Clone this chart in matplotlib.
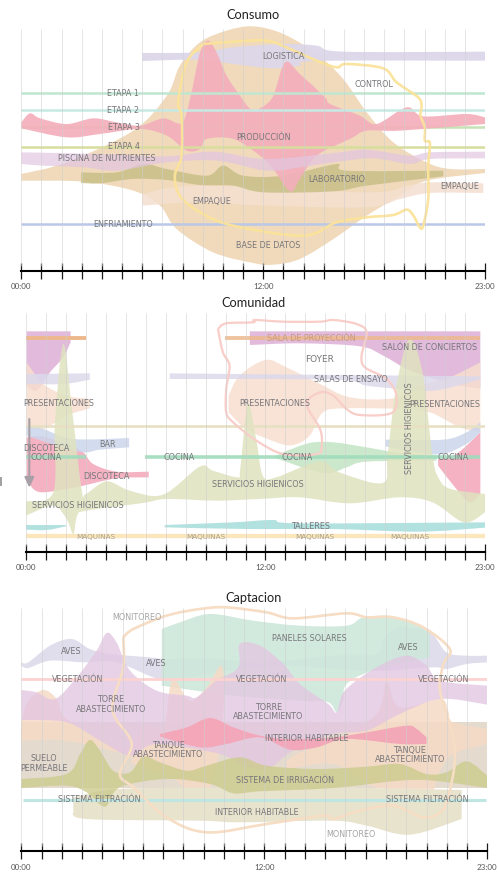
import matplotlib
matplotlib.use("Agg")
import matplotlib.pyplot as plt
from matplotlib.path import Path
from matplotlib.patches import PathPatch

# x values are minutes since 00:00, y values are chart levels (top = small)
HOURS = list(range(0, 1381, 60))
HOUR_LABELS = {0: "00:00", 720: "12:00", 1380: "23:00"}

# ---------- Consumo ----------
bd_ux = [0, 135, 333, 433, 472, 532, 611, 690, 780, 879, 958, 1028, 1107, 1206, 1276, 1380]
bd_uy = [525, 490, 395, 290, 200, 130, 95, 82, 105, 165, 240, 340, 430, 490, 510, 510]
bd_lx = [0, 185, 333, 413, 462, 571, 690, 750, 829, 929, 1028, 1127, 1206, 1380]
bd_ly = [545, 548, 575, 620, 690, 760, 792, 797, 780, 720, 650, 590, 545, 522]
log_ux = [360, 532, 631, 780, 879, 958, 1380]
log_uy = [162, 160, 145, 135, 140, 158, 158]
log_lx = [360, 532, 631, 750, 829, 879, 1380]
log_ly = [186, 182, 195, 208, 200, 186, 185]
prod_ux = [0, 26, 56, 135, 214, 284, 353, 423, 477, 502, 532, 557, 581, 611, 651, 685, 720, 750, 785, 829, 904, 919, 1008, 1057, 1147, 1196, 1325, 1380]
prod_uy = [370, 343, 358, 375, 358, 370, 380, 358, 372, 300, 160, 125, 160, 230, 290, 332, 322, 290, 190, 225, 295, 315, 350, 375, 325, 352, 345, 355]
prod_lx = [0, 135, 234, 353, 433, 492, 532, 552, 631, 710, 750, 800, 829, 879, 978, 1028, 1127, 1380]
prod_ly = [388, 415, 405, 390, 410, 455, 450, 420, 420, 470, 510, 577, 540, 470, 420, 395, 395, 375]
pis_ux = [0, 234, 433, 571, 730, 929, 1028, 1157, 1216, 1380]
pis_uy = [460, 465, 472, 458, 480, 462, 452, 470, 460, 458]
pis_lx = [0, 65, 185, 284, 433, 581, 730, 829, 929, 1048, 1157, 1216, 1380]
pis_ly = [495, 500, 505, 515, 490, 485, 515, 505, 490, 478, 495, 480, 478]
lab_ux = [178, 284, 363, 433, 552, 601, 661, 780, 938, 968, 1256]
lab_uy = [520, 520, 495, 510, 530, 500, 530, 530, 495, 515, 515]
lab_lx = [178, 234, 333, 433, 532, 631, 720, 929, 1028, 1256]
lab_ly = [552, 553, 540, 543, 558, 560, 580, 577, 560, 532]
emp_ux = [360, 532, 1028, 1147, 1216, 1375]
emp_uy = [585, 560, 580, 560, 550, 553]
emp_lx = [360, 532, 730, 1028, 1127, 1216, 1375]
emp_ly = [620, 610, 620, 625, 600, 582, 582]
ctl_x = [542, 631, 730, 800, 879, 938, 968, 1077, 1117, 1181, 1191, 1188, 1201, 1201, 1216, 1211, 1211, 1196, 1186, 1167, 1147, 1107, 1028, 938, 839, 631, 532, 472, 457, 477, 477, 467, 492]
ctl_y = [135, 128, 125, 150, 185, 205, 195, 208, 250, 295, 320, 350, 385, 425, 432, 500, 600, 680, 685, 650, 632, 648, 655, 670, 710, 680, 640, 590, 530, 470, 350, 310, 190]
etapa_levels = [283, 334, 385, 443, 675]
etapa_colors = ["#bfe6d0", "#c6e9e4", "#c5e3b4", "#d7dd9c", "#b9c8e8"]

# ---------- Comunidad ----------
sal_a_ux = [2, 134]
sal_a_uy = [127, 127]
sal_a_lx = [2, 32, 72, 112, 134]
sal_a_ly = [290, 305, 250, 205, 160]
sal_b_ux = [673, 1366]
sal_b_uy = [127, 127]
sal_b_lx = [673, 824, 1004, 1074, 1154, 1244, 1304, 1366]
sal_b_ly = [168, 163, 172, 200, 245, 275, 290, 298]
foy_x = [577, 602, 683, 688, 773, 884, 924, 994, 1024, 1009, 1019, 1084, 1114, 1099, 1004, 964, 924, 884, 844, 884, 889, 874, 773, 693, 623, 602, 602, 612, 592]
foy_y = [120, 103, 100, 93, 98, 98, 93, 105, 130, 200, 235, 270, 320, 372, 378, 360, 320, 310, 345, 420, 470, 495, 495, 455, 400, 370, 300, 230, 190]
pre_a_ux = [2, 52, 122, 192]
pre_a_uy = [220, 285, 320, 330]
pre_a_lx = [2, 52, 122, 192]
pre_a_ly = [410, 420, 380, 358]
pre_b_ux = [609, 642, 720, 783, 884, 974, 1104, 1184, 1274, 1366]
pre_b_uy = [320, 260, 213, 235, 285, 325, 328, 290, 265, 220]
pre_b_lx = [609, 662, 753, 803, 853, 893, 964, 1124, 1214, 1304, 1366]
pre_b_ly = [370, 420, 460, 468, 440, 370, 358, 360, 370, 415, 430]
ens_a_ux = [2, 192]
ens_a_uy = [255, 253]
ens_a_lx = [2, 112, 192]
ens_a_ly = [285, 285, 272]
ens_b_ux = [432, 1366]
ens_b_uy = [253, 262]
ens_b_lx = [432, 924, 1024, 1124, 1224, 1324, 1366]
ens_b_ly = [270, 272, 290, 300, 305, 283, 270]
bar_a_ux = [2, 52, 142, 310]
bar_a_uy = [412, 420, 450, 447]
bar_a_lx = [2, 92, 172, 222, 310]
bar_a_ly = [440, 470, 490, 482, 475]
bar_b_ux = [1081, 1254, 1324, 1366]
bar_b_uy = [452, 452, 430, 400]
bar_b_lx = [1081, 1174, 1254, 1324, 1366]
bar_b_ly = [472, 490, 495, 465, 430]
dis_a_ux = [2, 52, 122, 172, 202, 272, 369]
dis_a_uy = [445, 443, 465, 490, 525, 548, 548]
dis_a_lx = [2, 22, 52, 122, 172, 272, 369]
dis_a_ly = [570, 600, 610, 600, 590, 568, 565]
dis_b_ux = [1239, 1294, 1366]
dis_b_uy = [510, 495, 430]
dis_b_lx = [1239, 1294, 1334, 1366]
dis_b_ly = [530, 600, 640, 615]
coc_ux = [773, 853, 924, 1024, 1124, 1234]
coc_uy = [490, 462, 460, 475, 492, 498]
coc_lx = [743, 893, 964, 1024, 1234]
coc_ly = [505, 552, 535, 518, 515]
ser_ux = [0, 82, 87, 112, 137, 167, 180, 242, 312, 412, 522, 562, 637, 644, 667, 692, 712, 752, 882, 942, 1072, 1087, 1112, 1152, 1192, 1222, 1242, 1277, 1380]
ser_uy = [637, 610, 400, 165, 350, 600, 615, 577, 605, 617, 533, 545, 565, 540, 347, 450, 560, 565, 517, 550, 582, 500, 300, 150, 250, 500, 570, 600, 615]
ser_lx = [0, 82, 122, 142, 154, 182, 352, 422, 572, 702, 822, 972, 1122, 1222, 1317, 1380]
ser_ly = [680, 650, 690, 735, 680, 665, 642, 630, 635, 630, 625, 643, 625, 640, 700, 670]
tal_a_ux = [0, 120]
tal_a_uy = [708, 708]
tal_a_lx = [0, 62, 120]
tal_a_ly = [722, 723, 712]
tal_b_ux = [417, 622, 742, 822, 1380]
tal_b_uy = [708, 700, 693, 703, 700]
tal_b_lx = [417, 662, 922, 1182, 1380]
tal_b_ly = [715, 720, 720, 728, 716]

# ---------- Captacion ----------
sue_x = [0, 1380]
sue_top = [415, 415]
sue_bot = [612, 612]
ave_ux = [0, 21, 85, 149, 203, 263, 381, 430, 578, 726, 924, 1052, 1072, 1121, 1210, 1259, 1319, 1380]
ave_uy = [235, 235, 185, 165, 195, 210, 220, 225, 225, 235, 215, 210, 165, 130, 145, 205, 215, 215]
ave_lx = [0, 21, 85, 184, 282, 430, 578, 776, 924, 1072, 1220, 1259, 1319, 1380]
ave_ly = [245, 252, 230, 235, 235, 290, 265, 245, 255, 260, 250, 255, 240, 235]
pan_ux = [416, 470, 559, 687, 825, 963, 1013, 1101, 1180, 1210]
pan_uy = [135, 115, 90, 110, 125, 125, 100, 97, 125, 150]
pan_lx = [416, 628, 825, 909, 934, 953, 963, 1042, 1210]
pan_ly = [305, 335, 350, 355, 385, 350, 300, 260, 220]
tan_a_ux = [0, 21, 65, 105, 129, 233, 317, 361, 420, 440, 455, 499, 549, 593, 600, 590]
tan_a_uy = [410, 350, 318, 345, 400, 465, 495, 425, 430, 310, 285, 350, 310, 245, 350, 490]
tan_a_lx = [0, 134, 317, 332, 460, 519, 559, 590]
tan_a_ly = [470, 470, 515, 540, 590, 682, 610, 490]
tan_b_ux = [786, 825, 924, 1052, 1082, 1121, 1240, 1264, 1279, 1380]
tan_b_uy = [530, 505, 470, 390, 295, 370, 345, 380, 415, 435]
tan_b_lx = [786, 924, 1023, 1121, 1200, 1240, 1279, 1380]
tan_b_ly = [555, 540, 600, 625, 660, 560, 510, 480]
tor_ux = [0, 45, 100, 164, 223, 253, 282, 322, 401, 490, 519, 578, 643, 647, 707, 776, 825, 909, 934, 958, 1052, 1141, 1200, 1240, 1380]
tor_uy = [318, 325, 345, 280, 200, 147, 175, 260, 320, 335, 340, 290, 250, 180, 185, 240, 300, 360, 385, 320, 250, 215, 245, 290, 305]
tor_lx = [0, 134, 233, 322, 401, 588, 647, 726, 805, 924, 1023, 1121, 1240, 1380]
tor_ly = [408, 415, 470, 515, 480, 510, 540, 555, 500, 450, 440, 390, 345, 362]
inh_ux = [411, 490, 559, 628, 707, 796, 924, 1023, 1141, 1171, 1200]
inh_uy = [450, 430, 402, 430, 455, 465, 460, 445, 425, 435, 460]
inh_lx = [411, 529, 608, 707, 796, 875, 963, 1121, 1200]
inh_ly = [458, 490, 480, 460, 497, 490, 465, 480, 480]
irr_ux = [0, 134, 174, 203, 233, 272, 322, 361, 411, 490, 549, 647, 726, 875, 1023, 1121, 1200, 1259, 1319, 1380]
irr_uy = [585, 570, 510, 468, 500, 560, 565, 518, 535, 560, 545, 520, 545, 555, 548, 540, 570, 565, 532, 575]
irr_lx = [0, 134, 193, 248, 292, 430, 559, 628, 707, 924, 1121, 1220, 1380]
irr_ly = [612, 605, 625, 668, 610, 585, 600, 628, 622, 612, 590, 590, 612]
int_ux = [154, 292, 628, 924, 1304]
int_uy = [640, 615, 610, 610, 618]
int_lx = [154, 193, 529, 647, 924, 1023, 1151, 1304]
int_ly = [680, 705, 710, 715, 710, 725, 752, 705]
mon_x = [302, 332, 430, 529, 608, 726, 805, 963, 1023, 1101, 1190, 1269, 1250, 1240, 1274, 1284, 1264, 1240, 1190, 1101, 1003, 924, 894, 726, 549, 430, 332, 292, 327, 277, 272, 302]
mon_y = [160, 135, 95, 75, 70, 85, 103, 88, 100, 100, 130, 195, 240, 320, 440, 530, 640, 685, 700, 665, 680, 705, 695, 720, 745, 700, 610, 570, 480, 400, 350, 250]

TXT = "#77767a"


def spline_verts(xs, ys):
    """Bezier segments through the read points (Catmull-Rom handles)."""
    pts = list(zip(xs, ys))
    verts, codes = [], []
    n = len(pts)
    for i in range(n - 1):
        p0 = pts[max(i - 1, 0)]
        p1 = pts[i]
        p2 = pts[i + 1]
        p3 = pts[min(i + 2, n - 1)]
        c1 = (p1[0] + (p2[0] - p0[0]) / 6, p1[1] + (p2[1] - p0[1]) / 6)
        c2 = (p2[0] - (p3[0] - p1[0]) / 6, p2[1] - (p3[1] - p1[1]) / 6)
        verts += [c1, c2, p2]
        codes += [Path.CURVE4] * 3
    return verts, codes


def band(ax, ux, uy, lx, ly, color, alpha=1.0, z=2):
    v1, c1 = spline_verts(ux, uy)
    v2, c2 = spline_verts(lx[::-1], ly[::-1])
    verts = [(ux[0], uy[0])] + v1 + [(lx[-1], ly[-1])] + v2 + [(ux[0], uy[0])]
    codes = [Path.MOVETO] + c1 + [Path.LINETO] + c2 + [Path.CLOSEPOLY]
    ax.add_patch(PathPatch(Path(verts, codes), facecolor=color, edgecolor="none", alpha=alpha, zorder=z))


def loop(ax, xs, ys, color, lw, z=6, alpha=1.0):
    cx = list(xs) + [xs[0]]
    cy = list(ys) + [ys[0]]
    v, c = spline_verts(cx, cy)
    path = Path([(xs[0], ys[0])] + v, [Path.MOVETO] + c)
    ax.add_patch(PathPatch(path, facecolor="none", edgecolor=color, lw=lw, alpha=alpha, zorder=z, joinstyle="round"))


def hband(ax, y, x0, x1, color, lw, alpha=1.0, z=4):
    ax.hlines(y, x0, x1, colors=color, lw=lw, alpha=alpha, zorder=z, capstyle="butt")


def label(ax, x, y, s, size=5.8, color=TXT, rotation=0, alpha=1.0):
    ax.text(x, y, s, fontsize=size, color=color, ha="center", va="center", rotation=rotation,
            alpha=alpha, zorder=10, linespacing=1.05, family="DejaVu Sans")


def panel(fig, box, ylim, title, title_x, title_y, grid_top, grid_bot, axis_y, right_px):
    top, bot, left = box
    W, H = 498.0, 878.0
    ax = fig.add_axes([left / W, 1 - bot / H, (right_px - left) / W, (bot - top) / H])
    ax.set_xlim(0, 1380)
    ax.set_ylim(ylim, 0)
    ax.patch.set_alpha(0)
    for s in ["top", "left", "right"]:
        ax.spines[s].set_visible(False)
    ax.spines["bottom"].set_position(("data", axis_y))
    ax.spines["bottom"].set_linewidth(1.5)
    ax.spines["bottom"].set_zorder(9)
    ax.set_yticks([])
    ax.set_xticks(HOURS)
    ax.set_xticklabels([HOUR_LABELS.get(h, "") for h in HOURS], fontsize=5.8, color="#555555", family="Lato")
    ax.tick_params(axis="x", direction="inout", length=12, width=0.9, pad=2.5, color="#1a1a1a")
    ax.vlines(HOURS, grid_top, grid_bot, colors="#cfcfcf", lw=0.7, alpha=0.55, zorder=8)
    ax.text(title_x, title_y, title, fontsize=9.2, color="#222222", ha="center", va="center", family="Lato")
    return ax


fig = plt.figure(figsize=(4.98, 8.78), dpi=100, facecolor="white")

# ---------- Consumo ----------
a = panel(fig, (0, 295, 21.3), 885, "Consumo", 690, 44, 90, 800, 815, 485)
band(a, bd_ux, bd_uy, bd_lx, bd_ly, "#f0dabb", z=1)
band(a, emp_ux, emp_uy, emp_lx, emp_ly, "#f5dfd0", alpha=0.85, z=2)
band(a, log_ux, log_uy, log_lx, log_ly, "#dcd7ea", alpha=0.95, z=2)
hband(a, etapa_levels[0], 0, 1380, etapa_colors[0], 1.8)
hband(a, etapa_levels[1], 0, 1380, etapa_colors[1], 1.8)
hband(a, etapa_levels[2], 0, 1380, etapa_colors[2], 1.8, z=2)
band(a, lab_ux, lab_uy, lab_lx, lab_ly, "#c8c088", alpha=0.85, z=2.8)
band(a, prod_ux, prod_uy, prod_lx, prod_ly, "#f4afbb", alpha=0.92, z=3)
hband(a, etapa_levels[3], 0, 1380, etapa_colors[3], 1.8)
band(a, pis_ux, pis_uy, pis_lx, pis_ly, "#e2c6e2", alpha=0.7, z=4)
hband(a, etapa_levels[4], 0, 1380, etapa_colors[4], 1.8)
loop(a, ctl_x, ctl_y, "#fbe39a", 1.9, alpha=0.95)
for x, y, s in [(302, 281, "ETAPA 1"), (304, 331, "ETAPA 2"), (304, 381, "ETAPA 3"), (304, 439, "ETAPA 4"),
                (780, 169, "LOGISTICA"), (1048, 253, "CONTROL"), (720, 412, "PRODUCCIÓN"),
                (254, 476, "PISCINA DE NUTRIENTES"), (940, 538, "LABORATORIO"), (566, 605, "EMPAQUE"),
                (1305, 560, "EMPAQUE"), (304, 673, "ENFRIAMIENTO"), (735, 738, "BASE DE DATOS")]:
    label(a, x, y, s)

# ---------- Comunidad ----------
b = panel(fig, (290, 585, 26), 885, "Comunidad", 684, 40, 72, 772, 788, 485)
band(b, ser_ux, ser_uy, ser_lx, ser_ly, "#dfe3bf", alpha=0.85, z=3)
band(b, sal_a_ux, sal_a_uy, sal_a_lx, sal_a_ly, "#e0b7da", alpha=0.95, z=1)
band(b, sal_b_ux, sal_b_uy, sal_b_lx, sal_b_ly, "#e0b7da", alpha=0.95, z=1)
band(b, pre_a_ux, pre_a_uy, pre_a_lx, pre_a_ly, "#f7dfcf", alpha=0.85, z=2)
band(b, pre_b_ux, pre_b_uy, pre_b_lx, pre_b_ly, "#f7dfcf", alpha=0.85, z=2)
band(b, ens_a_ux, ens_a_uy, ens_a_lx, ens_a_ly, "#dcd9ec", alpha=0.85, z=2)
band(b, ens_b_ux, ens_b_uy, ens_b_lx, ens_b_ly, "#dcd9ec", alpha=0.85, z=2)
band(b, dis_a_ux, dis_a_uy, dis_a_lx, dis_a_ly, "#f4aebf", alpha=0.95, z=2)
band(b, dis_b_ux, dis_b_uy, dis_b_lx, dis_b_ly, "#f4aebf", alpha=0.95, z=2)
band(b, bar_a_ux, bar_a_uy, bar_a_lx, bar_a_ly, "#cbd6ec", alpha=0.85, z=2.5)
band(b, bar_b_ux, bar_b_uy, bar_b_lx, bar_b_ly, "#cbd6ec", alpha=0.85, z=2.5)
band(b, coc_ux, coc_uy, coc_lx, coc_ly, "#bfe3c0", alpha=0.8, z=2.5)
band(b, tal_a_ux, tal_a_uy, tal_a_lx, tal_a_ly, "#b2e2e0", z=2)
band(b, tal_b_ux, tal_b_uy, tal_b_lx, tal_b_ly, "#b2e2e0", z=2)
hband(b, 741, 0, 1380, "#fbe7bb", 3.1)
hband(b, 147, -5, 180, "#edb98c", 2.8, z=5)
hband(b, 147, 598, 1366, "#edb98c", 2.8, alpha=0.85, z=5)
hband(b, 411, 0, 1380, "#e7e0c3", 1.9, z=4)
hband(b, 504, 0, 180, "#9fdcbc", 2.6, alpha=0.9)
hband(b, 504, 359, 1366, "#9fdcbc", 2.6, alpha=0.9)
loop(b, foy_x, foy_y, "#f9cdc8", 1.6)
b.annotate("", xy=(10, 596), xytext=(10, 390),
           arrowprops=dict(arrowstyle="-|>,head_width=0.28,head_length=0.6", color="#a8a0a6", lw=1.5, shrinkA=0, shrinkB=0),
           zorder=9)
b.plot([-76, -76], [568, 588], color="#a0a0a0", lw=1.4, clip_on=False)
for x, y, s in [(98, 342, "PRESENTACIONES"), (748, 342, "PRESENTACIONES"), (1259, 344, "PRESENTACIONES"),
                (60, 476, "DISCOTECA"), (242, 559, "DISCOTECA"), (244, 464, "BAR"),
                (60, 504, "COCINA"), (460, 504, "COCINA"), (816, 504, "COCINA"), (1284, 504, "COCINA"),
                (157, 647, "SERVICIOS HIGIENICOS"), (697, 585, "SERVICIOS HIGIENICOS"),
                (1214, 174, "SALÓN DE CONCIERTOS"), (978, 270, "SALAS DE ENSAYO"), (856, 709, "TALLERES")]:
    label(b, x, y, s)
label(b, 1154, 415, "SERVICIOS HIGIENICOS", rotation=90)
label(b, 857, 146, "SALA DE PROYECCIÓN", color="#c79a7d")
label(b, 884, 210, "FOYER", size=6.5)
for x in [210, 542, 870, 1154]:
    label(b, x, 742, "MAQUINAS", size=5.2, color="#a8a08c")

# ---------- Captacion ----------
c = panel(fig, (585, 878, 21.3), 879, "Captacion", 689, 38, 72, 787, 802, 487.3)
c.fill_between(sue_x, sue_top, sue_bot, color="#e4dace", lw=0, zorder=1)
band(c, ave_ux, ave_uy, ave_lx, ave_ly, "#dfdceb", alpha=0.95, z=1.5)
band(c, pan_ux, pan_uy, pan_lx, pan_ly, "#cde8da", alpha=0.9, z=2)
band(c, tan_a_ux, tan_a_uy, tan_a_lx, tan_a_ly, "#f6dac6", alpha=0.85, z=2.2)
band(c, tan_b_ux, tan_b_uy, tan_b_lx, tan_b_ly, "#f6dac6", alpha=0.85, z=2.2)
band(c, tor_ux, tor_uy, tor_lx, tor_ly, "#e3c7e2", alpha=0.8, z=2.4)
band(c, inh_ux, inh_uy, inh_lx, inh_ly, "#f4a6b8", alpha=0.95, z=3)
band(c, int_ux, int_uy, int_lx, int_ly, "#e8e3cd", z=2.5)
band(c, irr_ux, irr_uy, irr_lx, irr_ly, "#cccb8c", alpha=0.8, z=3)
hband(c, 284, 0, 1380, "#fcd3d0", 2.0, z=4)
hband(c, 647, 4, 1376, "#bfe6e2", 2.2, z=4)
loop(c, mon_x, mon_y, "#f6ddc4", 1.9)
for x, y, s in [(148, 199, "AVES"), (399, 236, "AVES"), (1145, 189, "AVES"), (852, 161, "PANELES SOLARES"),
                (167, 283, "VEGETACIÓN"), (712, 283, "VEGETACIÓN"), (1251, 283, "VEGETACIÓN"),
                (265, 359, "TORRE\nABASTECIMIENTO"), (731, 381, "TORRE\nABASTECIMIENTO"),
                (436, 495, "TANQUE\nABASTECIMIENTO"), (1150, 510, "TANQUE\nABASTECIMIENTO"),
                (68, 536, "SUELO\nPERMEABLE"), (845, 461, "INTERIOR HABITABLE"), (697, 684, "INTERIOR HABITABLE"),
                (780, 586, "SISTEMA DE IRRIGACIÓN"), (230, 645, "SISTEMA FILTRACIÓN"), (1201, 645, "SISTEMA FILTRACIÓN")]:
    label(c, x, y, s)
for x, y in [(342, 96), (975, 749)]:
    label(c, x, y, "MONITOREO", color="#a5a5a5")

fig.savefig("out.png", dpi=100, facecolor="white")
